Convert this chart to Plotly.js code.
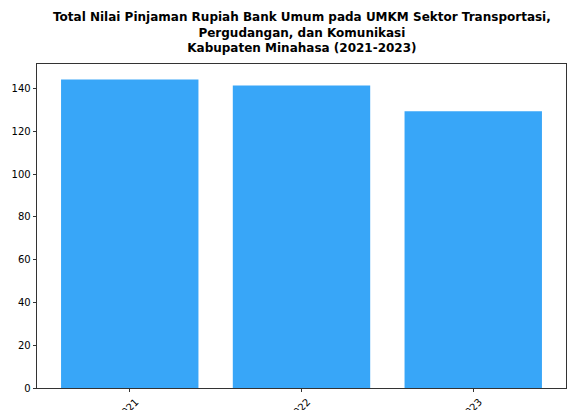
<!DOCTYPE html>
<html>
<head>
<meta charset="utf-8">
<script src="https://cdn.plot.ly/plotly-3.0.1.min.js"></script>
<style>html,body{margin:0;padding:0;background:#fff;}#chart{width:576px;height:410px;}</style>
</head>
<body>
<div id="chart"></div>
<script>
const years = ['2021', '2022', '2023'];
const values = [144.3, 141.5, 129.4];
const yTicks = [0, 20, 40, 60, 80, 100, 120, 140];
const titleText = 'Total Nilai Pinjaman Rupiah Bank Umum pada UMKM Sektor Transportasi,<br>Pergudangan, dan Komunikasi<br>Kabupaten Minahasa (2021-2023)';

const trace = {
  type: 'bar',
  x: years,
  y: values,
  marker: {color: '#38a6f8'},
  hoverinfo: 'x+y'
};

const layout = {
  width: 576,
  height: 410,
  margin: {l: 37.3, r: 10.3, t: 64, b: 22, pad: 0},
  paper_bgcolor: '#ffffff',
  plot_bgcolor: '#ffffff',
  font: {family: 'DejaVu Sans', size: 10, color: '#000'},
  bargap: 0.2,
  showlegend: false,
  annotations: [{
    text: '<b>' + titleText + '</b>',
    font: {family: 'DejaVu Sans', size: 12, color: '#000'},
    xref: 'paper', x: 0.5, xanchor: 'center',
    yref: 'paper', y: 1.022, yanchor: 'bottom',
    showarrow: false, align: 'center'
  }],
  xaxis: {
    type: 'category',
    range: [-0.54, 2.54],
    showline: true, mirror: true, linecolor: '#000', linewidth: 0.8,
    ticks: 'outside', ticklen: 3.5, tickwidth: 0.8, tickcolor: '#000',
    tickangle: -45,
    ticklabelshift: 6,
    tickfont: {family: 'DejaVu Sans', size: 10, color: '#000'},
    showgrid: false, zeroline: false, fixedrange: true
  },
  yaxis: {
    range: [0, 151.5],
    tickvals: yTicks,
    ticktext: yTicks.map(String),
    showline: true, mirror: true, linecolor: '#000', linewidth: 0.8,
    ticks: 'outside', ticklen: 3.5, tickwidth: 0.8, tickcolor: '#000',
    tickfont: {family: 'DejaVu Sans', size: 10, color: '#000'},
    showgrid: false, zeroline: false, fixedrange: true
  }
};

Plotly.newPlot('chart', [trace], layout, {displayModeBar: false, staticPlot: true});
</script>
</body>
</html>
